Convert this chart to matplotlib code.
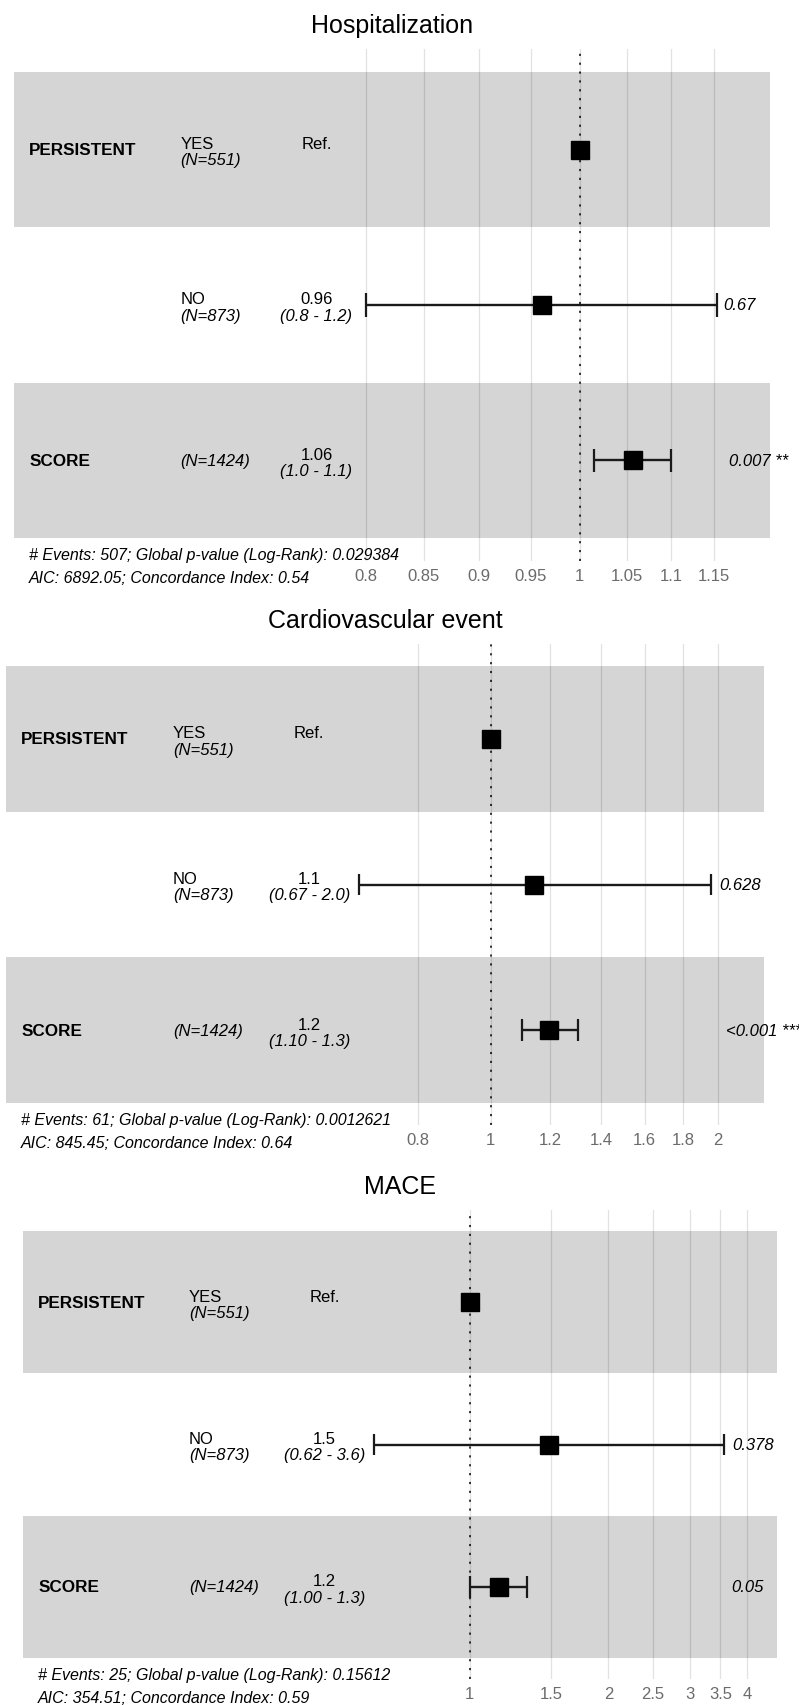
import numpy as np
import matplotlib
matplotlib.use("Agg")
import matplotlib.pyplot as plt
from matplotlib.ticker import FixedLocator, FixedFormatter, NullLocator

plt.rcParams['font.family'] = ['Liberation Sans', 'DejaVu Sans']

# shared row labels
var_names = ["PERSISTENT", "", "SCORE"]
levels = ["YES", "NO", ""]
n_labels = ["(N=551)", "(N=873)", "(N=1424)"]

# Hospitalization
hosp_hr = [1.0, 0.961, 1.057]
hosp_low = [np.nan, 0.80, 1.015]
hosp_high = [np.nan, 1.154, 1.10]
hosp_est = ["Ref.", "0.96", "1.06"]
hosp_ci = ["", "(0.8 - 1.2)", "(1.0 - 1.1)"]
hosp_p = ["", "0.67", "0.007 **"]
hosp_ticks = [0.8, 0.85, 0.9, 0.95, 1, 1.05, 1.1, 1.15]
hosp_ticklabels = ["0.8", "0.85", "0.9", "0.95", "1", "1.05", "1.1", "1.15"]
hosp_events = "# Events: 507; Global p-value (Log-Rank): 0.029384"
hosp_aic = "AIC: 6892.05; Concordance Index: 0.54"

# Cardiovascular event
cv_hr = [1.0, 1.143, 1.196]
cv_low = [np.nan, 0.668, 1.10]
cv_high = [np.nan, 1.96, 1.305]
cv_est = ["Ref.", "1.1", "1.2"]
cv_ci = ["", "(0.67 - 2.0)", "(1.10 - 1.3)"]
cv_p = ["", "0.628", "<0.001 ***"]
cv_ticks = [0.8, 1, 1.2, 1.4, 1.6, 1.8, 2]
cv_ticklabels = ["0.8", "1", "1.2", "1.4", "1.6", "1.8", "2"]
cv_events = "# Events: 61; Global p-value (Log-Rank): 0.0012621"
cv_aic = "AIC: 845.45; Concordance Index: 0.64"

# MACE
mace_hr = [1.0, 1.487, 1.156]
mace_low = [np.nan, 0.619, 1.00]
mace_high = [np.nan, 3.57, 1.33]
mace_est = ["Ref.", "1.5", "1.2"]
mace_ci = ["", "(0.62 - 3.6)", "(1.00 - 1.3)"]
mace_p = ["", "0.378", "0.05"]
mace_ticks = [1, 1.5, 2, 2.5, 3, 3.5, 4]
mace_ticklabels = ["1", "1.5", "2", "2.5", "3", "3.5", "4"]
mace_events = "# Events: 25; Global p-value (Log-Rank): 0.15612"
mace_aic = "AIC: 354.51; Concordance Index: 0.59"

panels = [
    ("Hospitalization", hosp_hr, hosp_low, hosp_high, hosp_est, hosp_ci, hosp_p,
     hosp_ticks, hosp_ticklabels, hosp_events, hosp_aic),
    ("Cardiovascular event", cv_hr, cv_low, cv_high, cv_est, cv_ci, cv_p,
     cv_ticks, cv_ticklabels, cv_events, cv_aic),
    ("MACE", mace_hr, mace_low, mace_high, mace_est, mace_ci, mace_p,
     mace_ticks, mace_ticklabels, mace_events, mace_aic),
]

# band box of each panel in pixels: left, right, top, bottom
boxes = [(14, 770, 73, 539), (6, 764, 667, 1104), (23, 777, 1232, 1659)]

W, H = 799, 1706
fig = plt.figure(figsize=(W / 100, H / 100), dpi=100)

p_texts = []
for (title, hr, low, high, est, ci, pv, ticks, ticklabels, events, aic), box in zip(panels, boxes):
    left, right, top, bot = box
    unit = (bot - top) / 3
    ax_top = top - 0.15 * unit
    ax_bot = bot + 0.15 * unit
    ax = fig.add_axes([left / W, 1 - ax_bot / H, (right - left) / W, (ax_bot - ax_top) / H])
    ax.set_xscale('log')

    lo = np.log(np.nanmin(low))
    hi = np.log(np.nanmax(high))
    w = hi - lo
    ax.set_xlim(np.exp(lo - w), np.exp(hi + 0.15 * w))
    ax.set_ylim(3.65, 0.35)
    rows = np.arange(1, len(hr) + 1)

    for r in rows:
        if r % 2 == 1:
            ax.axhspan(r - 0.5, r + 0.5, color='black', alpha=0.165, lw=0, zorder=1)

    ax.axvline(1, color='black', lw=1.1, ls=(0, (1.4, 4.4)), zorder=2)

    lows = np.array(low)
    highs = np.array(high)
    ok = ~np.isnan(lows)
    ax.hlines(rows[ok], lows[ok], highs[ok], color='#1a1a1a', lw=1.7, zorder=3)
    ax.vlines(lows[ok], rows[ok] - 0.075, rows[ok] + 0.075, color='#1a1a1a', lw=1.6, zorder=3)
    ax.vlines(highs[ok], rows[ok] - 0.075, rows[ok] + 0.075, color='#1a1a1a', lw=1.6, zorder=3)
    ax.plot(hr, rows, 's', ms=12.5, color='black', zorder=4)

    trans = ax.get_yaxis_transform()
    fs = 12
    for i, r in enumerate(rows):
        if var_names[i]:
            ax.text(0.02, r, var_names[i], transform=trans, ha='left', va='center',
                    fontweight='bold', fontsize=12.3)
        if levels[i]:
            ax.annotate(levels[i], (0.22, r), xycoords=trans, xytext=(0, 1.2),
                        textcoords='offset points', ha='left', va='baseline', fontsize=fs)
            ax.annotate(n_labels[i], (0.22, r), xycoords=trans, xytext=(0, -2),
                        textcoords='offset points', ha='left', va='top', fontsize=fs,
                        style='italic')
        else:
            ax.text(0.22, r, n_labels[i], transform=trans, ha='left', va='center',
                    fontsize=fs, style='italic')
        ax.annotate(est[i], (0.4, r), xycoords=trans, xytext=(0, 1.2),
                    textcoords='offset points', ha='center', va='baseline', fontsize=fs)
        if ci[i]:
            ax.annotate(ci[i], (0.4, r), xycoords=trans, xytext=(0, -2),
                        textcoords='offset points', ha='center', va='top', fontsize=fs,
                        style='italic')
        if pv[i]:
            t = ax.annotate(pv[i], (np.exp(hi), r), xycoords='data', xytext=(0, 0),
                            textcoords='offset points', ha='left', va='center',
                            fontsize=fs, style='italic', annotation_clip=False)
            p_texts.append(t)

    ax.annotate(events, (0.02, 3.5), xycoords=trans, xytext=(0, -11.9),
                textcoords='offset points', ha='left', va='center', fontsize=11.5,
                style='italic', annotation_clip=False)
    ax.annotate(aic, (0.02, 3.5), xycoords=trans, xytext=(0, -28.4),
                textcoords='offset points', ha='left', va='center', fontsize=11.5,
                style='italic', annotation_clip=False)

    ax.xaxis.set_major_locator(FixedLocator(ticks))
    ax.xaxis.set_major_formatter(FixedFormatter(ticklabels))
    ax.xaxis.set_minor_locator(NullLocator())
    ax.tick_params(axis='x', length=0, pad=5, labelsize=12, labelcolor='#6b6b6b')
    ax.set_yticks([])
    ax.grid(axis='x', color='#e2e2e2', lw=0.9)
    ax.set_axisbelow(True)
    for s in ax.spines.values():
        s.set_visible(False)
    ax.set_title(title, fontsize=18, pad=12)

# p-values start 0.2 of their own width to the right of the widest CI
fig.canvas.draw()
for t in p_texts:
    wpx = t.get_window_extent().width
    t.xyann = (0.2 * wpx * 72 / fig.dpi, 0)

fig.savefig('out.png', dpi=100)
